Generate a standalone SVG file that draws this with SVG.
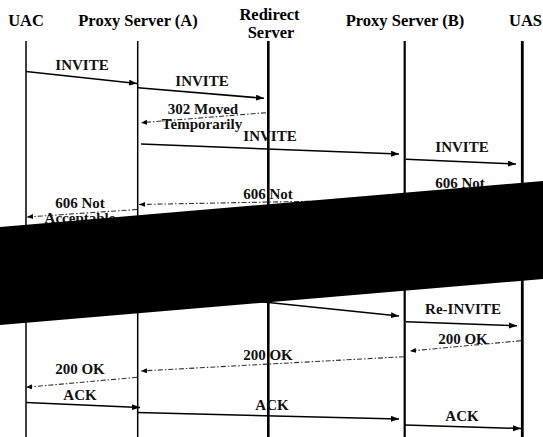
<svg xmlns="http://www.w3.org/2000/svg" width="543" height="437" viewBox="0 0 543 437">
<style>
.hd{font-family:'Liberation Serif','DejaVu Serif',serif;font-weight:bold;font-size:16.5px;fill:#000;text-anchor:middle}
.lb{font-family:'Liberation Serif','DejaVu Serif',serif;font-weight:bold;font-size:15px;fill:#111;text-anchor:middle}
.ll{stroke:#000;fill:none}
.msg{stroke:#000;stroke-width:1.5;fill:none;marker-end:url(#ah)}
.rsp{stroke:#333;stroke-width:1.1;fill:none;stroke-dasharray:5,2,1.5,2;marker-end:url(#ahs)}
</style>
<defs>
<marker id="ah" markerUnits="userSpaceOnUse" markerWidth="9" markerHeight="7" refX="8" refY="3" orient="auto">
<path d="M0,0 L8,3 L0,6 z" fill="#000"/>
</marker>
<marker id="ahs" markerUnits="userSpaceOnUse" markerWidth="7" markerHeight="6" refX="6" refY="2.5" orient="auto">
<path d="M0,0 L6,2.5 L0,5 z" fill="#000"/>
</marker>
</defs>
<rect width="543" height="437" fill="#fff"/>
<g id="uac">
<text class="hd" x="26" y="26">UAC</text>
<line class="ll" x1="26" y1="41" x2="26" y2="437" stroke-width="1.5"/>
</g>
<g id="proxyA">
<text class="hd" x="138" y="26">Proxy Server (A)</text>
<line class="ll" x1="137.7" y1="41" x2="137.7" y2="437" stroke-width="1.5"/>
</g>
<g id="redirect">
<text class="hd" x="269.5" y="19.5">Redirect</text>
<text class="hd" x="271" y="37.8">Server</text>
<line class="ll" x1="268.3" y1="41" x2="268.3" y2="437" stroke-width="2.6"/>
</g>
<g id="proxyB">
<text class="hd" x="405" y="26">Proxy Server (B)</text>
<line class="ll" x1="404.7" y1="41" x2="404.7" y2="437" stroke-width="2.2"/>
</g>
<g id="uas">
<text class="hd" x="525.5" y="26">UAS</text>
<line class="ll" x1="522.3" y1="41" x2="522.3" y2="437" stroke-width="2.8"/>
</g>
<g id="connectors">
<line class="msg" x1="26" y1="71.5" x2="137" y2="83.5"/>
<text class="lb" x="82" y="70">INVITE</text>
<line class="msg" x1="138" y1="87.7" x2="264" y2="98.3"/>
<text class="lb" x="202" y="86">INVITE</text>
<line class="rsp" x1="266" y1="112.7" x2="141" y2="122.7"/>
<text class="lb" x="203" y="114">302 Moved</text>
<text class="lb" x="202" y="129">Temporarily</text>
<line class="msg" x1="141" y1="144" x2="399" y2="154"/>
<text class="lb" x="270" y="141">INVITE</text>
<line class="msg" x1="406" y1="159.3" x2="516" y2="164"/>
<text class="lb" x="462" y="151.5">INVITE</text>
<text class="lb" x="460" y="188">606 Not</text>
<line class="rsp" x1="404" y1="199.5" x2="139" y2="204.5"/>
<text class="lb" x="268" y="198.5">606 Not</text>
<line class="rsp" x1="137" y1="209.5" x2="27" y2="217"/>
<text class="lb" x="80" y="208">606 Not</text>
<text class="lb" x="80" y="223">Acceptable</text>
<line class="msg" x1="137" y1="289" x2="399" y2="316"/>
<line class="msg" x1="406" y1="321.7" x2="517" y2="325.7"/>
<text class="lb" x="463" y="314">Re-INVITE</text>
<line class="rsp" x1="521" y1="340.7" x2="410" y2="351"/>
<text class="lb" x="463" y="344">200 OK</text>
<line class="rsp" x1="404" y1="356.7" x2="141" y2="371"/>
<text class="lb" x="268" y="360">200 OK</text>
<line class="rsp" x1="137" y1="377.3" x2="26" y2="387.3"/>
<text class="lb" x="80" y="374">200 OK</text>
<line class="msg" x1="26" y1="402.5" x2="140" y2="407.5"/>
<text class="lb" x="80" y="400">ACK</text>
<line class="msg" x1="137" y1="412.5" x2="399" y2="419"/>
<text class="lb" x="272" y="410">ACK</text>
<line class="msg" x1="405" y1="425" x2="521" y2="428.5"/>
<text class="lb" x="462" y="420.5">ACK</text>
</g>
<polygon points="0,227 543,181 543,279 0,325" fill="#000"/>
</svg>
